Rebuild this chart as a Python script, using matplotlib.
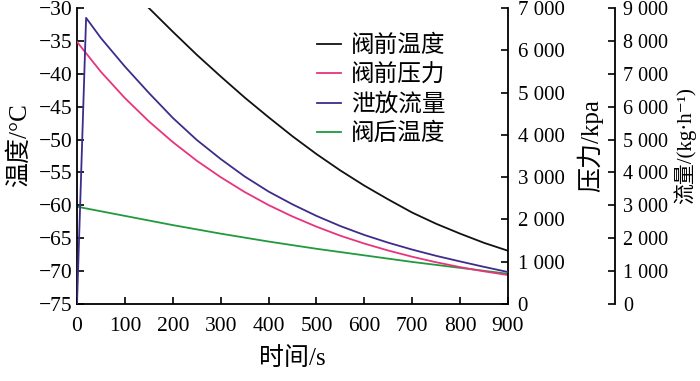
import matplotlib
matplotlib.use("Agg")
import matplotlib.pyplot as plt
from matplotlib.ticker import FuncFormatter

plt.rcParams["font.family"] = ["Liberation Serif", "Noto Sans CJK SC", "DejaVu Sans"]

# 阀前温度 (°C)
t_valve_temp = [150, 200, 250, 300, 350, 400, 450, 500, 550, 600, 650, 700, 750, 800, 850, 900]
valve_temp = [-30.0, -33.6, -37.1, -40.4, -43.6, -46.6, -49.5, -52.2, -54.7, -57.0,
              -59.1, -61.1, -62.8, -64.3, -65.7, -66.9]

# 阀前压力 (kpa)
t_pressure = [0, 50, 100, 150, 200, 250, 300, 350, 400, 450, 500, 550, 600, 650, 700, 750, 800, 850, 900]
pressure = [6200, 5490, 4870, 4320, 3830, 3390, 3000, 2650, 2340, 2070, 1830, 1615, 1430,
            1265, 1118, 988, 873, 773, 686]

# 泄放流量 (kg/h)
t_flow = [0, 19, 50, 100, 150, 200, 250, 300, 350, 400, 450, 500, 550, 600, 650, 700, 750, 800, 850, 900]
flow = [0, 8700, 8085, 7220, 6420, 5660, 4990, 4410, 3880, 3420, 3030, 2680, 2370, 2100,
        1865, 1655, 1465, 1295, 1130, 973]

# 阀后温度 (°C)
t_after = [0, 50, 100, 150, 200, 300, 400, 500, 600, 700, 800, 900]
after_temp = [-60.2, -60.9, -61.6, -62.3, -63.0, -64.3, -65.5, -66.6, -67.6, -68.6, -69.5, -70.4]

c_black = "#111111"
c_pink = "#e8347c"
c_purple = "#3d2c8a"
c_green = "#1f9a3c"

fig = plt.figure(figsize=(7, 3.81), dpi=100)
ax = fig.add_axes([0.11, 0.202, 0.6157, 0.777])
ax2 = ax.twinx()
ax3 = ax.twinx()

lw = 1.3
l1, = ax.plot(t_valve_temp, valve_temp, color=c_black, lw=lw, label="阀前温度")
l2, = ax2.plot(t_pressure, pressure, color=c_pink, lw=lw, label="阀前压力")
l3, = ax3.plot(t_flow, flow, color=c_purple, lw=lw, label="泄放流量")
l4, = ax.plot(t_after, after_temp, color=c_green, lw=lw, label="阀后温度")

ax.set_xlim(0, 900)
ax.set_ylim(-75, -30)
ax2.set_ylim(0, 7000)
ax3.set_ylim(0, 9000)
ax.set_xticks(range(0, 901, 100))
ax.set_yticks(range(-75, -29, 5))
ax2.set_yticks(range(0, 7001, 1000))
ax3.set_yticks(range(0, 9001, 1000))

thousands = FuncFormatter(lambda v, p: f"{int(v):,}".replace(",", " "))
ax2.yaxis.set_major_formatter(thousands)
ax3.yaxis.set_major_formatter(thousands)

for a in (ax, ax2, ax3):
    a.spines["top"].set_visible(False)
    for s in a.spines.values():
        s.set_linewidth(1.3)
for a in (ax2, ax3):
    a.spines["left"].set_visible(False)
    a.spines["bottom"].set_visible(False)
ax.spines["right"].set_visible(False)
ax3.spines["right"].set_position(("axes", 1.248))

ax.tick_params(axis="x", direction="in", length=5, width=1.2, labelsize=15.5, pad=9)
ax.tick_params(axis="y", direction="in", length=5, width=1.2, labelsize=15.5, pad=3)
ax2.tick_params(axis="y", direction="in", length=5, width=1.2, labelsize=15, pad=7)
ax3.tick_params(axis="y", direction="in", length=5, width=1.2, labelsize=14.5, pad=6)

ax.set_xlabel("时间/s", fontsize=18, labelpad=8)
ax.set_ylabel("温度/°C", fontsize=18)
ax2.set_ylabel("压力/kpa", fontsize=18)
ax3.set_ylabel("流量/(kg·h⁻¹)", fontsize=15)
ax.yaxis.set_label_coords(-0.107, 0.537)
ax2.yaxis.set_label_coords(1.16, 0.537)
ax3.yaxis.set_label_coords(1.383, 0.537)

ax.legend(handles=[l1, l2, l3, l4], loc="upper left", bbox_to_anchor=(0.557, 0.91),
          frameon=False, fontsize=17, handlelength=1.0, handletextpad=0.45,
          labelspacing=0.3, borderaxespad=0, borderpad=0)

fig.savefig("out.png", dpi=100)
